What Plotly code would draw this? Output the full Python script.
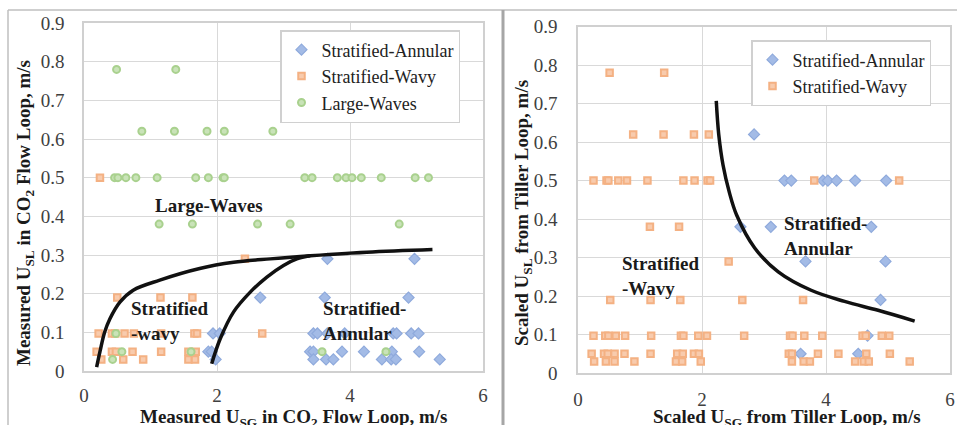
import plotly.graph_objects as go

W, H = 957, 425

# ---------------- data: left chart (measured, CO2 flow loop) ----------------
left_annular_x = [3.66, 4.97, 2.65, 3.62, 4.88,
                  1.94, 2.04, 3.45, 3.51, 3.66, 3.92, 4.65, 4.70, 4.92, 5.03,
                  1.87, 1.92, 3.40, 3.45, 3.88, 4.21, 4.63, 5.04,
                  1.98, 3.45, 3.64, 3.75, 4.48, 4.62, 4.69, 5.35]
left_annular_y = [0.29, 0.29, 0.19, 0.19, 0.19,
                  0.097, 0.097, 0.097, 0.097, 0.097, 0.097, 0.097, 0.097, 0.097, 0.097,
                  0.05, 0.05, 0.05, 0.05, 0.05, 0.05, 0.05, 0.05,
                  0.03, 0.03, 0.03, 0.03, 0.03, 0.03, 0.03, 0.03]

left_wavy_x = [0.24, 2.42, 0.50, 1.15, 1.63,
               0.22, 0.42, 0.47, 0.61, 0.75, 1.16, 1.66, 1.70, 2.68,
               0.19, 0.42, 0.48, 0.73, 1.16, 1.57, 1.68,
               0.26, 0.59, 0.89, 1.57, 1.67]
left_wavy_y = [0.50, 0.29, 0.19, 0.19, 0.19,
               0.097, 0.097, 0.097, 0.097, 0.097, 0.097, 0.097, 0.097, 0.097,
               0.05, 0.05, 0.05, 0.05, 0.05, 0.05, 0.05,
               0.03, 0.03, 0.03, 0.03, 0.03]

left_large_x = [0.49, 1.38,
                0.87, 1.36, 1.85, 2.11, 2.84,
                0.46, 0.51, 0.63, 0.78, 1.10, 1.68, 1.87, 2.09, 2.11, 3.32, 3.43,
                3.81, 3.94, 4.03, 4.17, 4.47, 4.98, 5.18,
                1.13, 1.63, 2.61, 3.10, 4.74,
                0.48, 0.57, 1.61, 3.58, 4.54, 0.43]
left_large_y = [0.78, 0.78,
                0.62, 0.62, 0.62, 0.62, 0.62,
                0.50, 0.50, 0.50, 0.50, 0.50, 0.50, 0.50, 0.50, 0.50, 0.50, 0.50,
                0.50, 0.50, 0.50, 0.50, 0.50, 0.50, 0.50,
                0.38, 0.38, 0.38, 0.38, 0.38,
                0.097, 0.05, 0.05, 0.05, 0.05, 0.03]

# boundary curves (left)
left_curve1_x = [0.19, 0.24, 0.31, 0.39, 0.54, 0.74, 1.14, 1.74, 2.25, 2.80, 3.25, 4.25, 5.24]
left_curve1_y = [0.01, 0.05, 0.10, 0.135, 0.178, 0.209, 0.235, 0.265, 0.281, 0.290, 0.296, 0.307, 0.314]
left_curve2_x = [1.92, 2.05, 2.25, 2.50, 2.75, 3.00, 3.20, 3.40]
left_curve2_y = [0.019, 0.084, 0.153, 0.204, 0.243, 0.273, 0.290, 0.298]

# ---------------- data: right chart (scaled, Tiller loop) ----------------
right_wavy_x = [0.51, 1.39,
                0.89, 1.38, 1.87, 2.11,
                0.25, 0.46, 0.49, 0.65, 0.79, 1.12, 1.70, 1.88, 2.09, 2.13, 3.81, 5.18,
                1.16, 1.63,
                2.43,
                0.52, 1.17, 1.65, 2.65, 3.63,
                0.25, 0.44, 0.49, 0.61, 0.76, 1.18, 1.66, 1.70, 1.94, 2.08, 2.68,
                3.42, 3.46, 3.65, 3.94, 4.59, 4.64, 4.90, 5.02,
                0.22, 0.42, 0.48, 0.59, 0.75, 1.17, 1.60, 1.69, 1.87, 1.95,
                3.40, 3.45, 3.87, 4.20, 4.65, 5.03,
                0.26, 0.45, 0.59, 0.91, 1.58, 1.68, 1.98, 3.45, 3.64, 3.74, 4.47, 4.61, 4.69, 5.35]
right_wavy_y = [0.78, 0.78,
                0.62, 0.62, 0.62, 0.62,
                0.50, 0.50, 0.50, 0.50, 0.50, 0.50, 0.50, 0.50, 0.50, 0.50, 0.50, 0.50,
                0.38, 0.38,
                0.29,
                0.19, 0.19, 0.19, 0.19, 0.19,
                0.097, 0.097, 0.097, 0.097, 0.097, 0.097, 0.097, 0.097, 0.097, 0.097, 0.097,
                0.097, 0.097, 0.097, 0.097, 0.097, 0.097, 0.097, 0.097,
                0.05, 0.05, 0.05, 0.05, 0.05, 0.05, 0.05, 0.05, 0.05, 0.05,
                0.05, 0.05, 0.05, 0.05, 0.05, 0.05,
                0.03, 0.03, 0.03, 0.03, 0.03, 0.03, 0.03, 0.03, 0.03, 0.03, 0.03, 0.03, 0.03, 0.03]

right_annular_x = [2.84, 3.33, 3.44, 3.95, 4.03, 4.17, 4.47, 4.97,
                   2.62, 3.11, 4.73, 3.67, 4.96, 4.88, 4.67, 3.59, 4.52]
right_annular_y = [0.62, 0.50, 0.50, 0.50, 0.50, 0.50, 0.50, 0.50,
                   0.38, 0.38, 0.38, 0.29, 0.29, 0.19, 0.097, 0.05, 0.05]

right_curve_x = [2.23, 2.27, 2.34, 2.44, 2.56, 2.85, 3.23, 3.76, 4.30, 4.84, 5.43]
right_curve_y = [0.707, 0.62, 0.54, 0.47, 0.41, 0.325, 0.263, 0.215, 0.186, 0.163, 0.135]

x_ticks = [0, 2, 4, 6]
y_ticks = [0, 0.1, 0.2, 0.3, 0.4, 0.5, 0.6, 0.7, 0.8, 0.9]

# ---------------- styling ----------------
FONT = "Liberation Serif, Times New Roman, Times, serif"
BLUE, BLUE_F = "#8faadc", "#a3bbe6"
ORANGE, ORANGE_F = "#f4b183", "#f8cbad"
GREEN, GREEN_F = "#a9d18e", "#c9e3b8"

def px(x):
    return x / W

def py(y):
    return (H - y) / H

diamond = dict(symbol="diamond", size=8.5, color=BLUE_F, line=dict(color=BLUE, width=1.2))
square = dict(symbol="square", size=6.5, color=ORANGE_F, line=dict(color=ORANGE, width=2))
circle = dict(symbol="circle", size=7, color=GREEN_F, line=dict(color=GREEN, width=2))

fig = go.Figure()

fig.add_trace(go.Scatter(x=left_annular_x, y=left_annular_y, mode="markers", name="Stratified-Annular",
                         marker=diamond, xaxis="x", yaxis="y", legend="legend"))
fig.add_trace(go.Scatter(x=left_wavy_x, y=left_wavy_y, mode="markers", name="Stratified-Wavy",
                         marker=square, xaxis="x", yaxis="y", legend="legend"))
fig.add_trace(go.Scatter(x=left_large_x, y=left_large_y, mode="markers", name="Large-Waves",
                         marker=circle, xaxis="x", yaxis="y", legend="legend"))
fig.add_trace(go.Scatter(x=left_curve1_x, y=left_curve1_y, mode="lines", line=dict(color="#111111", width=3.5, shape="spline"),
                         showlegend=False, xaxis="x", yaxis="y"))
fig.add_trace(go.Scatter(x=left_curve2_x, y=left_curve2_y, mode="lines", line=dict(color="#111111", width=3.5, shape="spline"),
                         showlegend=False, xaxis="x", yaxis="y"))

fig.add_trace(go.Scatter(x=right_annular_x, y=right_annular_y, mode="markers", name="Stratified-Annular",
                         marker=diamond, xaxis="x2", yaxis="y2", legend="legend2"))
fig.add_trace(go.Scatter(x=right_wavy_x, y=right_wavy_y, mode="markers", name="Stratified-Wavy",
                         marker=square, xaxis="x2", yaxis="y2", legend="legend2"))
fig.add_trace(go.Scatter(x=right_curve_x, y=right_curve_y, mode="lines", line=dict(color="#111111", width=3.5, shape="spline"),
                         showlegend=False, xaxis="x2", yaxis="y2"))

axis_common = dict(showgrid=True, gridcolor="#d9d9d9", gridwidth=1, zeroline=False,
                   showline=True, linecolor="#d0d0d0", linewidth=1.5, mirror=True, automargin=False,
                   tickfont=dict(family=FONT, size=19, color="#404040"), fixedrange=True)

legend_font = dict(family=FONT, size=18, color="#222222")

fig.update_layout(
    template="none",
    width=W, height=H, autosize=False,
    margin=dict(l=0, r=0, t=0, b=0, pad=0),
    paper_bgcolor="white", plot_bgcolor="white",
    font=dict(family=FONT, size=19, color="#222222"),
    xaxis=dict(domain=[px(84), px(483)], range=[0, 6], tickvals=x_ticks, ticklabelstandoff=6,
               anchor="y", **axis_common),
    yaxis=dict(domain=[py(371), py(23)], range=[0, 0.9], tickvals=y_ticks, ticktext=[str(v) if v else "0" for v in y_ticks],
               ticklabelstandoff=14, anchor="x", **axis_common),
    xaxis2=dict(domain=[px(578), px(950)], range=[0, 6], tickvals=x_ticks, ticklabelstandoff=8,
                anchor="y2", **axis_common),
    yaxis2=dict(domain=[py(373), py(26.7)], range=[0, 0.9], tickvals=y_ticks, ticktext=[str(v) if v else "0" for v in y_ticks],
                ticklabelstandoff=15, anchor="x2", **axis_common),
    legend=dict(x=px(280), y=py(30), xanchor="left", yanchor="top", bgcolor="white",
                bordercolor="#d0d0d0", borderwidth=1.5, font=legend_font),
    legend2=dict(x=px(751), y=py(40), xanchor="left", yanchor="top", bgcolor="white",
                 bordercolor="#d0d0d0", borderwidth=1.5, font=legend_font),
)

# frames of the two chart panels
frame = "#bfbfbf"
fig.add_shape(type="line", xref="paper", yref="paper", x0=px(8), x1=px(8), y0=0, y1=py(10), line=dict(color=frame, width=1.5))
fig.add_shape(type="line", xref="paper", yref="paper", x0=px(8), x1=1, y0=py(10), y1=py(10), line=dict(color=frame, width=1.5))
fig.add_shape(type="line", xref="paper", yref="paper", x0=px(503), x1=px(503), y0=0, y1=py(10), line=dict(color="#a6a6a6", width=3))

bold = dict(family=FONT, size=19, color="#1a1a1a")

def region_label(text, x, y, xref, yref):
    fig.add_annotation(text=text, x=x, y=y, xref=xref, yref=yref, showarrow=False,
                       xanchor="left", yanchor="middle", align="left", font=bold)

region_label("<b>Large-Waves</b>", 1.04, 0.427, "x", "y")
region_label("<b>Stratified<br>-wavy</b>", 0.68, 0.129, "x", "y")
region_label("<b>Stratified-<br>Annular</b>", 3.57, 0.129, "x", "y")
region_label("<b>Stratified-<br>Annular</b>", 3.29, 0.356, "x2", "y2")
region_label("<b>Stratified<br>-Wavy</b>", 0.67, 0.252, "x2", "y2")

# axis titles
def axis_title(text, x, y, angle):
    fig.add_annotation(text=text, x=px(x), y=py(y), xref="paper", yref="paper", showarrow=False,
                       xanchor="center", yanchor="middle", textangle=angle, font=bold)

axis_title("<b>Measured U<sub>SL</sub> in CO<sub>2</sub> Flow Loop, m/s</b>", 25, 213, -90)
axis_title("<b>Measured U<sub>SG</sub> in CO<sub>2</sub> Flow Loop, m/s</b>", 294, 418, 0)
axis_title("<b>Scaled U<sub>SL</sub> from Tiller Loop, m/s</b>", 523, 213, -90)
axis_title("<b>Scaled U<sub>SG</sub> from Tiller Loop, m/s</b>", 787, 418, 0)

fig.write_html("out.html", config={"displayModeBar": False},
               post_script="document.body.style.margin='0';document.body.style.overflow='hidden';")
